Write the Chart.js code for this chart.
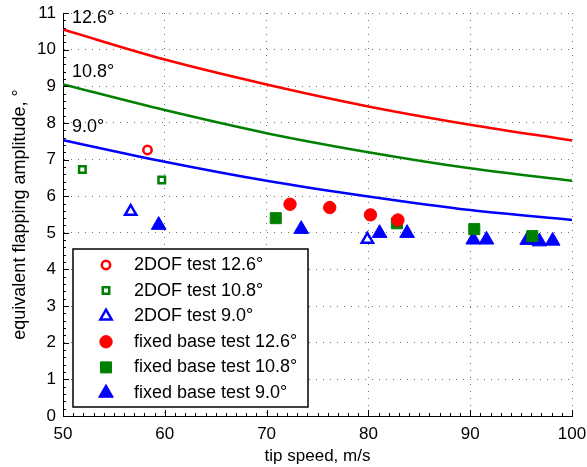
<!DOCTYPE html>
<html>
<head>
<meta charset="utf-8">
<script src="https://cdn.jsdelivr.net/npm/chart.js@4.4.1/dist/chart.umd.min.js"></script>
<style>
  html, body { margin: 0; padding: 0; background: #fff; }
  canvas { display: block; }
</style>
</head>
<body>
<canvas id="chart" width="587" height="467" style="width:587px;height:467px"></canvas>
<script>
// theory curves
const speedGrid = [50, 60, 70, 80, 90, 100];
const theory126 = [10.55, 9.73, 9.05, 8.45, 7.95, 7.52];
const theory108 = [9.05, 8.35, 7.72, 7.2, 6.76, 6.42];
const theory90 = [7.53, 6.94, 6.42, 5.99, 5.62, 5.35];

// 2DOF test points
const dof126X = [58.3];
const dof126Y = [7.26];
const dof108X = [51.9, 59.7];
const dof108Y = [6.73, 6.44];
const dof90X = [56.65, 79.9];
const dof90Y = [5.58, 4.82];

// fixed base test points
const fix126X = [72.3, 76.2, 80.2, 82.9];
const fix126Y = [5.78, 5.69, 5.49, 5.35];
const fix108X = [70.9, 82.8, 90.4, 96.1];
const fix108Y = [5.40, 5.26, 5.10, 4.91];
const fix90X = [59.4, 73.4, 81.1, 83.8, 90.3, 91.6, 95.6, 96.8, 98.1];
const fix90Y = [5.21, 5.10, 4.99, 4.99, 4.81, 4.81, 4.80, 4.76, 4.78];

const xTicks = [50, 60, 70, 80, 90, 100];
const yTicks = [0, 1, 2, 3, 4, 5, 6, 7, 8, 9, 10, 11];
const curveLabels = ['12.6°', '10.8°', '9.0°'];

const RED = '#ff0000', GREEN = '#008000', BLUE = '#0000ff';
const FONT = 'Liberation Sans, Arial, Helvetica, sans-serif';

const pts = (xs, ys) => xs.map((x, i) => ({ x: x, y: ys[i] }));

function curve(ys, color) {
    return {
        type: 'line', data: pts(speedGrid, ys), borderColor: color, borderWidth: 2.5,
        pointRadius: 0, showLine: true, fill: false, cubicInterpolationMode: 'monotone', order: 10
    };
}

function marks(label, xs, ys, color, style, radius, open, order) {
    return {
        label: label, data: pts(xs, ys), showLine: false,
        pointStyle: style, pointRadius: radius, pointHoverRadius: radius,
        backgroundColor: open ? 'rgba(0,0,0,0)' : color,
        borderColor: color, borderWidth: open ? 2.5 : 1, order: order
    };
}

const datasets = [
    curve(theory126, RED),
    curve(theory108, GREEN),
    curve(theory90, BLUE),
    marks('2DOF test 12.6°', dof126X, dof126Y, RED, 'circle', 4.2, true, 4),
    marks('2DOF test 10.8°', dof108X, dof108Y, GREEN, 'rect', 4.6, true, 5),
    marks('2DOF test 9.0°', dof90X, dof90Y, BLUE, 'triangle', 6.5, true, 6),
    marks('fixed base test 12.6°', fix126X, fix126Y, RED, 'circle', 6.2, false, 1),
    marks('fixed base test 10.8°', fix108X, fix108Y, GREEN, 'rect', 7.8, false, 2),
    marks('fixed base test 9.0°', fix90X, fix90Y, BLUE, 'triangle', 8.5, false, 3)
];

const extras = {
    id: 'extras',
    afterDraw(chart) {
        const ctx = chart.ctx, a = chart.chartArea;
        const xs = chart.scales.x, ys = chart.scales.y;
        ctx.save();
        // inward ticks, MATLAB style
        ctx.strokeStyle = '#000';
        ctx.lineWidth = 1;
        ctx.beginPath();
        for (let i = 0; i <= 50; i++) {
            const px = Math.round(xs.getPixelForValue(50 + i)) + 0.5;
            const len = i % 10 === 0 ? 6 : 3;
            ctx.moveTo(px, a.bottom);
            ctx.lineTo(px, a.bottom - len);
        }
        for (let i = 0; i <= 55; i++) {
            const py = Math.round(ys.getPixelForValue(i / 5)) + 0.5;
            const len = i % 5 === 0 ? 6 : 3;
            ctx.moveTo(a.left, py);
            ctx.lineTo(a.left + len, py);
        }
        ctx.stroke();

        // curve labels
        ctx.fillStyle = '#000';
        ctx.font = '18px ' + FONT;
        ctx.textBaseline = 'middle';
        ctx.textAlign = 'left';
        const labelY = [10.85, 9.38, 7.88];
        curveLabels.forEach((t, i) => {
            ctx.fillText(t, a.left + 9, ys.getPixelForValue(labelY[i]));
        });

        // legend box
        const bx = 73, by = 249, bw = 235, bh = 158;
        ctx.fillStyle = '#fff';
        ctx.fillRect(bx, by, bw, bh);
        ctx.strokeStyle = '#000';
        ctx.lineWidth = 1.5;
        ctx.strokeRect(bx, by, bw, bh);
        const entries = chart.data.datasets.slice(3);
        entries.forEach((ds, i) => {
            const cy = by + 16 + i * 25.6;
            ctx.fillStyle = ds.backgroundColor;
            ctx.strokeStyle = ds.borderColor;
            ctx.lineWidth = ds.borderWidth;
            Chart.helpers.drawPoint(ctx, {
                pointStyle: ds.pointStyle, radius: ds.pointRadius, rotation: 0, borderWidth: ds.borderWidth
            }, 106, cy);
            ctx.fillStyle = '#000';
            ctx.font = '18px ' + FONT;
            ctx.fillText(ds.label, 134, cy);
        });
        ctx.restore();
    }
};

new Chart(document.getElementById('chart'), {
    type: 'scatter',
    data: { datasets: datasets },
    options: {
        responsive: false,
        animation: false,
        devicePixelRatio: 1,
        layout: { padding: { top: 13, right: 15, left: 0, bottom: 0 } },
        plugins: {
            legend: { display: false },
            tooltip: { enabled: false }
        },
        scales: {
            x: {
                type: 'linear', min: 50, max: 100,
                afterBuildTicks: s => { s.ticks = xTicks.map(v => ({ value: v })); },
                afterFit: s => { s.height = 51; s.paddingLeft = 0; s.paddingRight = 0; },
                ticks: { color: '#000', padding: 8, font: { family: FONT, size: 17 } },
                grid: { color: 'rgba(0,0,0,0.55)', lineWidth: 1, drawTicks: false },
                border: { display: true, color: '#000', width: 1, dash: [1, 6] },
                title: {
                    display: true, text: 'tip speed, m/s', color: '#000',
                    font: { family: FONT, size: 17 }, padding: { top: 0, bottom: 0 }
                }
            },
            y: {
                type: 'linear', min: 0, max: 11,
                afterBuildTicks: s => { s.ticks = yTicks.map(v => ({ value: v })); },
                afterFit: s => { s.width = 63; s.paddingTop = 0; s.paddingBottom = 0; },
                ticks: { color: '#000', padding: 7, font: { family: FONT, size: 17 } },
                grid: { color: 'rgba(0,0,0,0.55)', lineWidth: 1, drawTicks: false },
                border: { display: true, color: '#000', width: 1, dash: [1, 6] },
                title: {
                    display: true, text: 'equivalent flapping amplitude, °', color: '#000',
                    font: { family: FONT, size: 18 }, padding: { top: 9, bottom: 0 }
                }
            }
        }
    },
    plugins: [extras]
});
</script>
</body>
</html>
